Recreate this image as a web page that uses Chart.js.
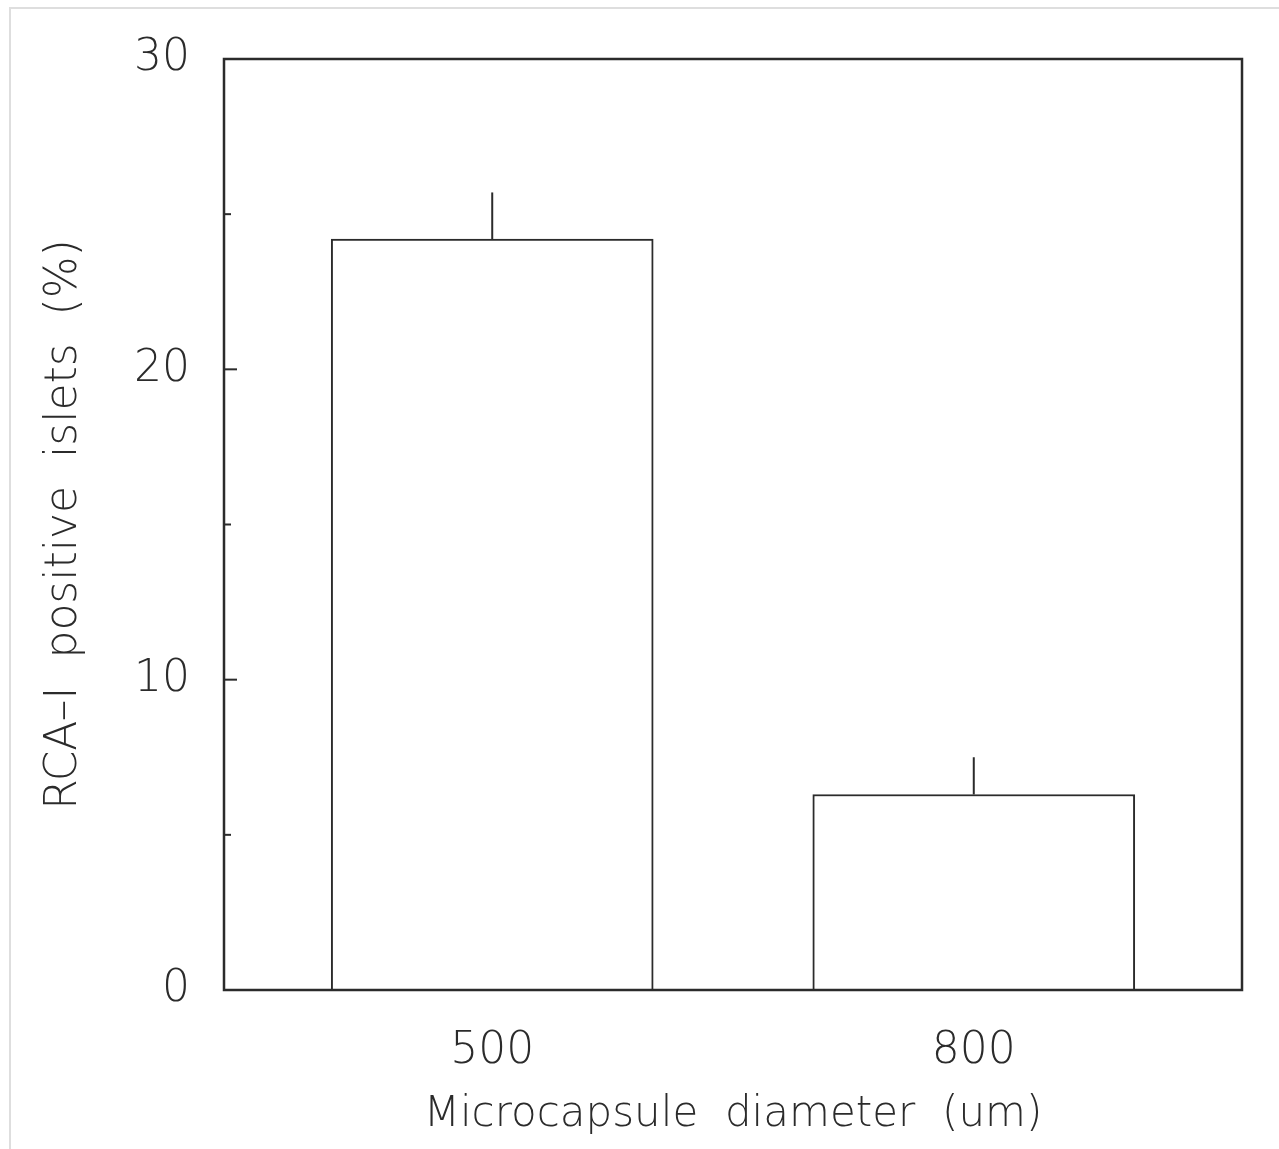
<!DOCTYPE html>
<html>
<head>
<meta charset="utf-8">
<script src="https://cdn.jsdelivr.net/npm/chart.js@4/dist/chart.umd.min.js"></script>
<style>
  html, body { margin: 0; padding: 0; background: #fff; }
  #wrap { position: relative; width: 1279px; height: 1149px; }
  #edge { position: absolute; left: 9px; top: 7px; right: 0; bottom: 0;
          border-left: 2px solid #dedede; border-top: 2px solid #dedede; }
  #chart { position: absolute; left: 0; top: 0; }
</style>
</head>
<body>
<div id="wrap">
  <div id="edge"></div>
  <canvas id="chart" width="1279" height="1149"></canvas>
</div>
<script>
// data
var categories = ['500', '800'];
var means = [24.2, 6.3];
var errors = [1.5, 1.2];        // upper error, added to the mean
var yMajorTicks = [10, 20];
var yMinorTicks = [5, 15, 25];

var ink = '#2b2b2b';
Chart.defaults.font.family = '"DejaVu Sans", sans-serif';
Chart.defaults.font.weight = '300';
Chart.defaults.color = ink;

var points = categories.map(function (c, i) {
    return { x: i, y: means[i] };
});

// frame, inward ticks and error bars
var decorations = {
    id: 'decorations',
    afterDatasetsDraw: function (chart) {
        var ctx = chart.ctx;
        var area = chart.chartArea;
        var y = chart.scales.y;
        ctx.save();
        ctx.strokeStyle = ink;
        ctx.lineCap = 'butt';

        ctx.lineWidth = 2;
        var meta = chart.getDatasetMeta(0);
        meta.data.forEach(function (bar, i) {
            var top = y.getPixelForValue(means[i]);
            var end = y.getPixelForValue(means[i] + errors[i]);
            ctx.beginPath();
            ctx.moveTo(bar.x, top);
            ctx.lineTo(bar.x, end);
            ctx.stroke();
        });

        ctx.lineWidth = 2.5;
        ctx.strokeRect(area.left, area.top, area.right - area.left, area.bottom - area.top);

        ctx.lineWidth = 2;
        yMajorTicks.forEach(function (v) {
            var p = y.getPixelForValue(v);
            ctx.beginPath();
            ctx.moveTo(area.left, p);
            ctx.lineTo(area.left + 13, p);
            ctx.stroke();
        });
        yMinorTicks.forEach(function (v) {
            var p = y.getPixelForValue(v);
            ctx.beginPath();
            ctx.moveTo(area.left, p);
            ctx.lineTo(area.left + 7, p);
            ctx.stroke();
        });
        ctx.restore();
    }
};

new Chart(document.getElementById('chart'), {
    type: 'bar',
    data: {
        datasets: [{
            data: points,
            backgroundColor: '#ffffff',
            borderColor: ink,
            borderWidth: 2,
            borderSkipped: 'bottom',
            barThickness: 322
        }]
    },
    options: {
        responsive: false,
        animation: false,
        events: [],
        layout: { padding: { left: 0, top: 59, right: 37, bottom: 0 } },
        plugins: { legend: { display: false }, tooltip: { enabled: false } },
        scales: {
            x: {
                type: 'linear',
                offset: false,
                min: -0.557,
                max: 1.557,
                grid: { display: false, offset: false },
                border: { display: false },
                afterBuildTicks: function (scale) {
                    scale.ticks = categories.map(function (c, i) { return { value: i }; });
                },
                afterFit: function (scale) { scale.height = 159; },
                ticks: {
                    padding: 27,
                    font: { size: 44 },
                    callback: function (v) { return categories[v]; }
                },
                title: {
                    display: true,
                    text: 'Microcapsule  diameter  (um)',
                    font: { size: 42 },
                    padding: { top: 0, bottom: 9 }
                }
            },
            y: {
                min: 0,
                max: 30,
                grid: { display: false },
                border: { display: false },
                afterFit: function (scale) { scale.width = 224; },
                ticks: {
                    stepSize: 10,
                    padding: 26,
                    font: { size: 44 }
                },
                title: {
                    display: true,
                    text: 'RCA\u2013I  positive  islets  (%)',
                    font: { size: 44 },
                    padding: { top: 38, bottom: 0 }
                }
            }
        }
    },
    plugins: [decorations]
});
</script>
</body>
</html>
